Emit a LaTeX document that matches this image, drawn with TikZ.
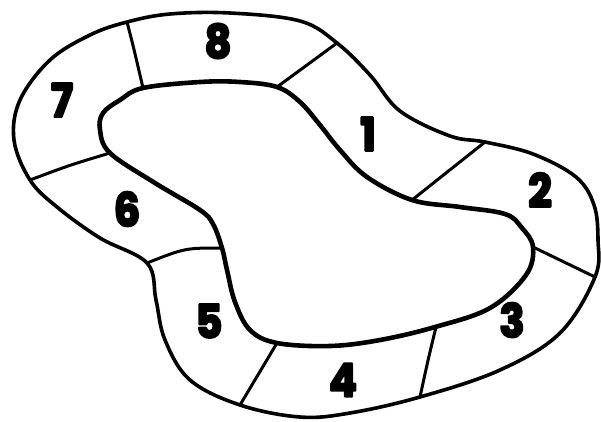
\documentclass[tikz,border=0pt]{standalone}
\usepackage{fontspec}
\setsansfont{Poppins}
\newcommand\heavydigit[1]{\special{pdf:literal 2 Tr 2.2 w 1 j}#1\special{pdf:literal 0 Tr}}
\begin{document}
\begin{tikzpicture}[x=1pt,y=-1pt,
  rim/.style={line width=3.6pt,line join=round,line cap=round},
  divider/.style={line width=3pt,line cap=round},
  num/.style={font=\sffamily\bfseries\fontsize{46}{46}\selectfont,inner sep=0pt,xscale=0.9}]
\useasboundingbox (0,0) rectangle (601,421);
% outer boundary
\draw[rim] plot[smooth cycle,tension=0.6] coordinates {
 (127,22) (170,14) (230,13) (300,21) (337,43) (370,75) (400,111) (450,136)
 (485,142) (533,154) (576,177) (594,205) (598,240) (595,277) (560,333)
 (500,370) (420,397) (350,413) (300,417) (240,405) (190,380) (165,340)
 (156,300) (147,263) (100,238) (57,207) (30,180) (14,140) (20,100)
 (50,60) (90,35)};
% inner boundary
\draw[rim,line width=4.6pt] plot[smooth cycle,tension=0.6] coordinates {
 (143,88) (200,82) (240,82) (277,87) (300,102) (320,125) (340,150)
 (367,177) (412,200) (460,207) (505,214) (522,228) (533,247) (526,275)
 (490,308) (435,327) (380,340) (330,346) (277,343) (250,330) (235,302)
 (227,270) (222,248) (213,224) (200,210) (155,183) (110,153) (100,130)
 (103,113) (120,100)};
% dividers
\draw[divider] (127,22) .. controls (133,45) .. (143,88);
\draw[divider] (337,43) -- (277,87);
\draw[divider] (485,142) -- (412,200);
\draw[divider] (595,277) -- (533,247);
\draw[divider] (420,397) .. controls (428,360) .. (436,327);
\draw[divider] (240,405) -- (277,343);
\draw[divider] (147,263) .. controls (185,248) .. (222,248);
\draw[divider] (30,180) .. controls (70,165) .. (110,153);
% labels
\node[num] (n8) at (218,41) {\heavydigit{8}};
\node[num] (n1) at (368,134) {\heavydigit{1}};
\node[num] (n2) at (540,190) {\heavydigit{2}};
\node[num] (n3) at (512,320) {\heavydigit{3}};
\node[num] (n4) at (343,380) {\heavydigit{4}};
\node[num] (n5) at (209,321) {\heavydigit{5}};
\node[num] (n6) at (127,209) {\heavydigit{6}};
\node[num] (n7) at (62,100) {\heavydigit{7}};
\end{tikzpicture}
\end{document}
